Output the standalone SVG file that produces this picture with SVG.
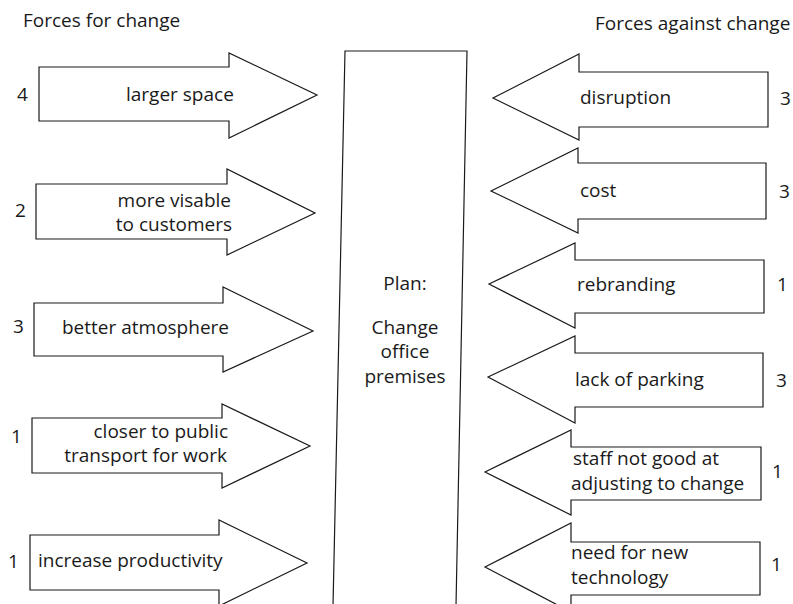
<svg xmlns="http://www.w3.org/2000/svg" width="793" height="604" viewBox="0 0 793 604">
<style>
  .shape { fill: #ffffff; stroke: #1a1a1a; stroke-width: 1.2; stroke-linejoin: miter; }
  text { font-family: "Open Sans", "Noto Sans", "Liberation Sans", sans-serif; font-size: 19px; fill: #1a1a1a; }
  .mid { text-anchor: middle; }
  .end { text-anchor: end; }
</style>
<rect x="0" y="0" width="793" height="604" fill="#ffffff"/>
<g id="headers">
  <text x="23" y="27">Forces for change</text>
  <text x="595" y="30">Forces against change</text>
</g>
<g id="plan">
  <polygon class="shape" points="345,51 467,51 456,606 333,606"/>
  <text class="mid" x="405" y="290">Plan:</text>
  <text class="mid" x="405" y="334">Change</text>
  <text class="mid" x="405" y="358">office</text>
  <text class="mid" x="405" y="383">premises</text>
</g>
<g id="for-larger-space">
  <polygon class="shape" points="39,67 229,67 229,53 317,95 229,138 229,121 39,121"/>
  <text x="126" y="101">larger space</text>
  <text x="17" y="101">4</text>
</g>
<g id="for-more-visable">
  <polygon class="shape" points="36,184 227,184 227,169 315,213 227,255 227,239 36,239"/>
  <text class="end" x="231" y="207">more visable</text>
  <text class="end" x="232" y="231">to customers</text>
  <text x="15" y="217">2</text>
</g>
<g id="for-better-atmosphere">
  <polygon class="shape" points="34,303 223,303 223,287 313,331 223,372 223,356 34,356"/>
  <text x="62" y="334">better atmosphere</text>
  <text x="13" y="333">3</text>
</g>
<g id="for-closer-transport">
  <polygon class="shape" points="32,418 222,418 222,404 310,446 222,488 222,473 32,473"/>
  <text class="end" x="228" y="438">closer to public</text>
  <text class="end" x="227" y="462">transport for work</text>
  <text x="11" y="443">1</text>
</g>
<g id="for-increase-productivity">
  <polygon class="shape" points="30,535 219,535 219,520 307,563 219,606 219,590 30,590"/>
  <text x="38" y="567">increase productivity</text>
  <text x="8" y="568">1</text>
</g>
<g id="against-disruption">
  <polygon class="shape" points="768,72 579,72 579,54 493,98 579,140 579,127 768,127"/>
  <text x="580" y="104">disruption</text>
  <text x="780" y="105">3</text>
</g>
<g id="against-cost">
  <polygon class="shape" points="766,163 578,163 578,148 491,191 578,233 578,219 766,219"/>
  <text x="580" y="197">cost</text>
  <text x="779" y="198">3</text>
</g>
<g id="against-rebranding">
  <polygon class="shape" points="764,260 575,260 575,243 489,284 575,328 575,313 764,313"/>
  <text x="577" y="291">rebranding</text>
  <text x="777" y="291">1</text>
</g>
<g id="against-parking">
  <polygon class="shape" points="763,353 575,353 575,336 488,377 575,423 575,407 763,407"/>
  <text x="575" y="386">lack of parking</text>
  <text x="776" y="387">3</text>
</g>
<g id="against-staff">
  <polygon class="shape" points="761,447 571,447 571,430 485,472 571,515 571,500 761,500"/>
  <text x="573" y="465">staff not good at</text>
  <text x="571" y="490">adjusting to change</text>
  <text x="772" y="478">1</text>
</g>
<g id="against-technology">
  <polygon class="shape" points="760,542 571,542 571,523 485,567 571,612 571,595 760,595"/>
  <text x="571" y="559">need for new</text>
  <text x="571" y="584">technology</text>
  <text x="771" y="571">1</text>
</g>
<g id="connectors"></g>
</svg>
